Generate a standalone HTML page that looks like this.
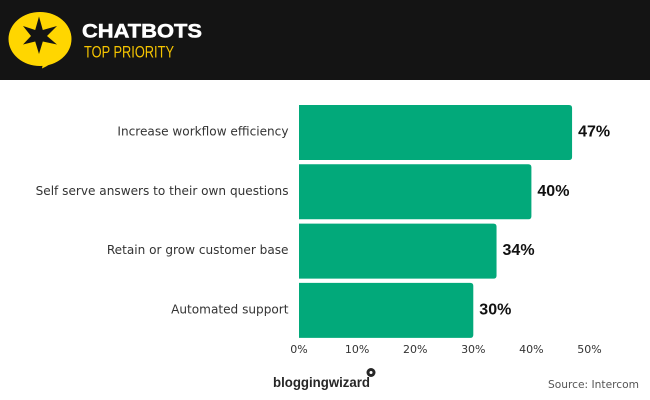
<!DOCTYPE html>
<html lang="en">
<head>
<meta charset="utf-8">
<title>Chatbots Top Priority</title>
<style>
html,body{margin:0;padding:0;background:#fff;width:650px;height:400px;overflow:hidden}
svg{display:block;font-family:"Liberation Sans",sans-serif}
</style>
</head>
<body>
<svg id="chart" width="650" height="400" viewBox="0 0 650 400" xmlns="http://www.w3.org/2000/svg">
  <rect x="0" y="0" width="650" height="400" fill="#ffffff"/>
  <rect x="0" y="0" width="650" height="80" fill="#141414"/>
  <g>
    <ellipse cx="40" cy="39" rx="31.500" ry="27" fill="#ffd600"/>
    <path d="M44 58 L42 68.500 Q50 65 58 58 Z" fill="#ffd600"/>
    <polygon points="39,16.500 42.800,30 57,26 47,36 57,44.500 42.800,41.500 39,54 35.200,41.500 23,44.500 31,36 23,26 35.200,30" fill="#141414"/>
  </g>
  <text x="82" y="37.500" font-size="19" font-weight="700" fill="#ffffff" stroke="#ffffff" stroke-width="0.500" textLength="120" lengthAdjust="spacingAndGlyphs">CHATBOTS</text>
  <text x="84" y="57.500" font-size="16.500" fill="#f5c400" textLength="90" lengthAdjust="spacingAndGlyphs">TOP PRIORITY</text>
  <g id="bars"></g>
  <g id="cat-labels"></g>
  <g id="val-labels"></g>
  <g id="x-ticks"></g>
  <g>
    <text x="273" y="387" font-size="14" font-weight="700" fill="#262626" textLength="97" lengthAdjust="spacingAndGlyphs">bloggingwizard</text>
    <circle cx="371" cy="372.500" r="4.500" fill="#262626"/>
    <circle cx="371" cy="372.500" r="1.500" fill="#ffffff"/>
  </g>
  <text x="639" y="388" font-size="11" font-family="'DejaVu Sans',sans-serif" fill="#555555" text-anchor="end" textLength="91" lengthAdjust="spacingAndGlyphs">Source: Intercom</text>
</svg>
<script>
var categories = ["Increase workflow efficiency", "Self serve answers to their own questions", "Retain or grow customer base", "Automated support"];
var seriesValues = [47, 40, 34, 30];
var tickValues = [0, 10, 20, 30, 40, 50];

var svgNS = "http://www.w3.org/2000/svg";
function xScale(v) { return 299 + v * 5.81; }
function yBand(i) { return 105 + i * 59.3; }
var bandHeight = 55;

function make(tag, attrs, text) {
  var el = document.createElementNS(svgNS, tag);
  for (var k in attrs) { el.setAttribute(k, attrs[k]); }
  if (text !== undefined) { el.textContent = text; }
  return el;
}

var barsG = document.getElementById("bars");
var catG = document.getElementById("cat-labels");
var valG = document.getElementById("val-labels");
var tickG = document.getElementById("x-ticks");

seriesValues.forEach(function (v, i) {
  var x0 = xScale(0), x1 = xScale(v), y0 = yBand(i), y1 = y0 + bandHeight, r = 3;
  var bar = make("path", {
    d: "M" + x0 + " " + y0 + " H" + (x1 - r) + " Q" + x1 + " " + y0 + " " + x1 + " " + (y0 + r) +
       " V" + (y1 - r) + " Q" + x1 + " " + y1 + " " + (x1 - r) + " " + y1 + " H" + x0 + " Z",
    fill: "#02a97a"
  });
  
  
  barsG.appendChild(bar);

  var label = make("text", {
    x: 288.5, y: y0 + 30.5, "font-size": 12.1, "font-family": "'DejaVu Sans',sans-serif",
    fill: "#333333", "text-anchor": "end"
  }, categories[i]);
  
  
  catG.appendChild(label);

  var val = make("text", {
    x: x1 + 6, y: y0 + 31.5, "font-size": 16, "font-weight": 700, fill: "#111111"
  }, v + "%");
  
  
  valG.appendChild(val);
});

tickValues.forEach(function (t) {
  var tick = make("text", {
    x: xScale(t), y: 353, "font-size": 11, "font-family": "'DejaVu Sans',sans-serif",
    fill: "#333333", "text-anchor": "middle"
  }, t + "%");
  
  
  tickG.appendChild(tick);
});
</script>
</body>
</html>
